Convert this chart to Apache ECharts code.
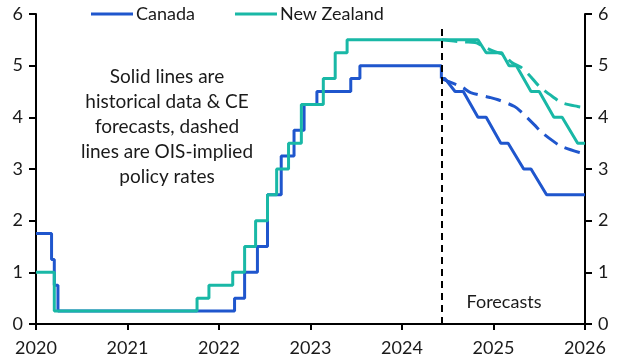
<!DOCTYPE html>
<html>
<head>
<meta charset="utf-8">
<script src="https://cdn.jsdelivr.net/npm/echarts@6/dist/echarts.min.js"></script>
<style>
html,body{margin:0;padding:0;background:#fff;}
#chart{width:621px;height:363px;}
</style>
</head>
<body>
<div id="chart"></div>
<script>
// ---- data ----
var xTicks = [2020, 2021, 2022, 2023, 2024, 2025, 2026];
var yTicks = [0, 1, 2, 3, 4, 5, 6];
var forecastStart = 2024.43;

// Canada historical policy rate (change dates, decimal years)
var canHistDates = [2020, 2020.17, 2020.2, 2020.24, 2022.17, 2022.28, 2022.42, 2022.53, 2022.68, 2022.82, 2022.93, 2023.07, 2023.44, 2023.54, 2024.43];
var canHistRates = [1.75, 1.25, 0.75, 0.25, 0.5, 1.0, 1.5, 2.5, 3.25, 3.75, 4.25, 4.5, 4.75, 5.0, 4.75];

// New Zealand historical policy rate
var nzHistDates = [2020, 2020.2, 2021.76, 2021.89, 2022.15, 2022.28, 2022.4, 2022.53, 2022.63, 2022.76, 2022.9, 2023.14, 2023.27, 2023.4, 2024.43];
var nzHistRates = [1.0, 0.25, 0.5, 0.75, 1.0, 1.5, 2.0, 2.5, 3.0, 3.5, 4.25, 4.75, 5.25, 5.5, 5.5];

// CE forecasts
var canFcDates = [2024.43, 2024.47, 2024.58, 2024.67, 2024.83, 2024.92, 2025.08, 2025.16, 2025.33, 2025.41, 2025.58, 2026];
var canFcRates = [4.75, 4.75, 4.5, 4.5, 4.0, 4.0, 3.5, 3.5, 3.0, 3.0, 2.5, 2.5];
var nzFcDates = [2024.43, 2024.83, 2024.92, 2025.09, 2025.17, 2025.25, 2025.41, 2025.5, 2025.66, 2025.75, 2025.92, 2026];
var nzFcRates = [5.5, 5.5, 5.25, 5.25, 5.0, 5.0, 4.5, 4.5, 4.0, 4.0, 3.5, 3.5];

// OIS-implied policy rates
var canOisDates = [2024.43, 2024.5, 2024.66, 2024.75, 2024.95, 2025.05, 2025.23, 2025.3, 2025.45, 2025.52, 2025.66, 2025.74, 2025.94, 2026];
var canOisRates = [4.75, 4.70, 4.58, 4.48, 4.39, 4.34, 4.21, 4.11, 3.85, 3.72, 3.53, 3.44, 3.32, 3.30];
var nzOisDates = [2024.43, 2024.67, 2024.8, 2024.88, 2025.0, 2025.1, 2025.2, 2025.3, 2025.4, 2025.5, 2025.67, 2025.75, 2025.92, 2026];
var nzOisRates = [5.5, 5.46, 5.45, 5.38, 5.28, 5.22, 5.06, 4.97, 4.8, 4.6, 4.37, 4.28, 4.21, 4.19];

var seriesNames = ['Canada', 'New Zealand'];
var annotation = ['Solid lines are', 'historical data & CE', 'forecasts, dashed', 'lines are OIS-implied', 'policy rates'];
var forecastLabel = 'Forecasts';

// ---- build ----
function pairs(xs, ys) { return xs.map(function (x, i) { return [x, ys[i]]; }); }

var BLUE = '#1f56cd';
var TEAL = '#19b8a6';
var FONT = 'Lato';
var TXT = '#1a1a1a';

function yAxisCfg(pos) {
  return {
    type: 'value', position: pos, min: yTicks[0], max: yTicks[yTicks.length - 1], interval: 1,
    axisLine: { show: true, lineStyle: { color: '#000', width: 2 } },
    axisTick: { show: true, length: 7, lineStyle: { color: '#000', width: 2 } },
    axisLabel: { color: TXT, fontSize: 18, fontFamily: FONT, margin: 13 },
    splitLine: { show: false }
  };
}

var chart = echarts.init(document.getElementById('chart'), null, { renderer: 'canvas' });
chart.setOption({
  animation: false,
  backgroundColor: '#fff',
  grid: { left: 36, right: 36, top: 14, bottom: 39, containLabel: false },
  legend: {
    data: seriesNames, left: 86, top: 0, itemWidth: 42, itemHeight: 3, itemGap: 40, icon: 'rect',
    textStyle: { color: TXT, fontSize: 18, fontFamily: FONT, padding: [0, 0, 0, -2] }
  },
  xAxis: {
    type: 'value', min: xTicks[0], max: xTicks[xTicks.length - 1], interval: 1,
    axisLine: { show: true, onZero: false, lineStyle: { color: '#000', width: 2 } },
    axisTick: { show: true, length: 6, lineStyle: { color: '#000', width: 2 } },
    axisLabel: { color: TXT, fontSize: 18, fontFamily: FONT, margin: 15, formatter: function (v) { return String(v); } },
    splitLine: { show: false }
  },
  yAxis: [yAxisCfg('left'), yAxisCfg('right')],
  series: [
    { name: seriesNames[0], type: 'line', step: 'end', showSymbol: false, data: pairs(canHistDates, canHistRates),
      lineStyle: { color: BLUE, width: 3 }, itemStyle: { color: BLUE },
      markLine: { silent: true, symbol: 'none', label: { show: false },
        lineStyle: { color: '#000', width: 2, type: [7, 5] },
        data: [[{ coord: [forecastStart, 0] }, { coord: [forecastStart, 5.72] }]] } },
    { name: seriesNames[1], type: 'line', step: 'end', showSymbol: false, data: pairs(nzHistDates, nzHistRates),
      lineStyle: { color: TEAL, width: 3 }, itemStyle: { color: TEAL } },
    { name: 'Canada forecast', type: 'line', showSymbol: false, data: pairs(canFcDates, canFcRates),
      lineStyle: { color: BLUE, width: 3 }, itemStyle: { color: BLUE } },
    { name: 'New Zealand forecast', type: 'line', showSymbol: false, data: pairs(nzFcDates, nzFcRates),
      lineStyle: { color: TEAL, width: 3 }, itemStyle: { color: TEAL } },
    { name: 'Canada OIS', type: 'line', showSymbol: false, smooth: 0.3, data: pairs(canOisDates, canOisRates),
      lineStyle: { color: BLUE, width: 3, type: [16, 8] }, itemStyle: { color: BLUE } },
    { name: 'New Zealand OIS', type: 'line', showSymbol: false, smooth: 0.3, data: pairs(nzOisDates, nzOisRates),
      lineStyle: { color: TEAL, width: 3, type: [16, 8] }, itemStyle: { color: TEAL } }
  ],
  graphic: [
    { type: 'text', x: 167, y: 64, style: { text: annotation.join('\n'), fill: TXT, font: '19px ' + FONT, textAlign: 'center', lineHeight: 25 } },
    { type: 'text', x: 504, y: 293, style: { text: forecastLabel, fill: TXT, font: '18px ' + FONT, textAlign: 'center' } }
  ]
});
</script>
</body>
</html>
